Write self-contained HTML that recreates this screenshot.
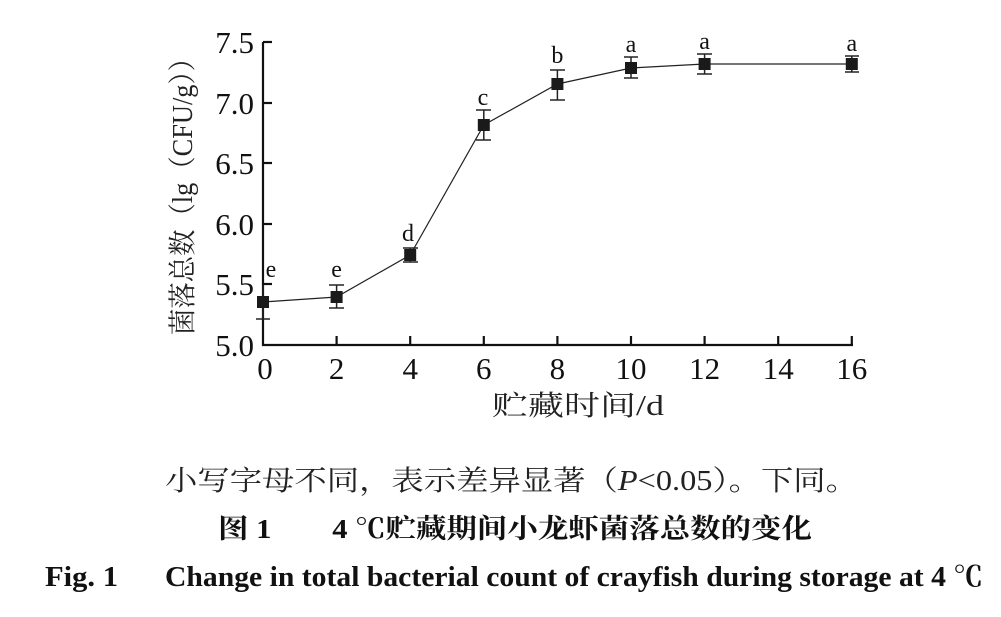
<!DOCTYPE html>
<html><head><meta charset="utf-8"><style>
html,body{margin:0;padding:0;background:#fff;}
svg{display:block;}
</style></head><body>
<svg width="1001" height="617" viewBox="0 0 1001 617" xmlns="http://www.w3.org/2000/svg">
<g stroke="#111" stroke-width="2.2" fill="none">
<line x1="263" y1="42" x2="263" y2="346"/>
<line x1="262" y1="345" x2="853" y2="345"/>
<!-- y ticks -->
<line x1="263" y1="42" x2="272" y2="42"/>
<line x1="263" y1="103" x2="272" y2="103"/>
<line x1="263" y1="163" x2="272" y2="163"/>
<line x1="263" y1="224" x2="272" y2="224"/>
<line x1="263" y1="284" x2="272" y2="284"/>
<!-- x ticks -->
<line x1="336.6" y1="345" x2="336.6" y2="336"/>
<line x1="410.2" y1="345" x2="410.2" y2="336"/>
<line x1="483.8" y1="345" x2="483.8" y2="336"/>
<line x1="557.4" y1="345" x2="557.4" y2="336"/>
<line x1="631" y1="345" x2="631" y2="336"/>
<line x1="704.6" y1="345" x2="704.6" y2="336"/>
<line x1="778.2" y1="345" x2="778.2" y2="336"/>
<line x1="851.8" y1="345" x2="851.8" y2="336"/>
</g>
<g font-family="Liberation Serif, serif" font-size="31" fill="#111" text-anchor="end">
<text x="254" y="53">7.5</text>
<text x="254" y="114">7.0</text>
<text x="254" y="174">6.5</text>
<text x="254" y="235">6.0</text>
<text x="254" y="295">5.5</text>
<text x="254" y="356">5.0</text>
</g>
<g font-family="Liberation Serif, serif" font-size="31" fill="#111" text-anchor="middle">
<text x="265" y="379">0</text>
<text x="336.6" y="379">2</text>
<text x="410.2" y="379">4</text>
<text x="483.8" y="379">6</text>
<text x="557.4" y="379">8</text>
<text x="631" y="379">10</text>
<text x="704.6" y="379">12</text>
<text x="778.2" y="379">14</text>
<text x="851.8" y="379">16</text>
</g>
<!-- line -->
<polyline fill="none" stroke="#222" stroke-width="1.2" points="263,302 336.6,297 410.2,255 483.8,125 557.4,84 631,68 704.6,64 851.8,64"/>
<!-- error bars -->
<g stroke="#222" stroke-width="1.5">
<line x1="263" y1="285" x2="263" y2="319"/><line x1="256" y1="319" x2="270" y2="319"/>
<line x1="336.6" y1="285" x2="336.6" y2="308"/><line x1="329" y1="285" x2="344" y2="285"/><line x1="329" y1="308" x2="344" y2="308"/>
<line x1="410.2" y1="248" x2="410.2" y2="262"/><line x1="403" y1="248" x2="418" y2="248"/><line x1="403" y1="262" x2="418" y2="262"/>
<line x1="483.8" y1="110" x2="483.8" y2="140"/><line x1="476" y1="110" x2="491" y2="110"/><line x1="476" y1="140" x2="491" y2="140"/>
<line x1="557.4" y1="70" x2="557.4" y2="100"/><line x1="550" y1="70" x2="565" y2="70"/><line x1="550" y1="100" x2="565" y2="100"/>
<line x1="631" y1="57" x2="631" y2="78"/><line x1="624" y1="57" x2="638" y2="57"/><line x1="624" y1="78" x2="638" y2="78"/>
<line x1="704.6" y1="54" x2="704.6" y2="74"/><line x1="697" y1="54" x2="712" y2="54"/><line x1="697" y1="74" x2="712" y2="74"/>
<line x1="851.8" y1="56" x2="851.8" y2="72"/><line x1="845" y1="56" x2="859" y2="56"/><line x1="845" y1="72" x2="859" y2="72"/>
</g>
<g fill="#1a1a1a">
<rect x="257" y="296" width="12" height="12"/>
<rect x="330.6" y="291" width="12" height="12"/>
<rect x="404.2" y="249" width="12" height="12"/>
<rect x="477.8" y="119" width="12" height="12"/>
<rect x="551.4" y="78" width="12" height="12"/>
<rect x="625" y="62" width="12" height="12"/>
<rect x="698.6" y="58" width="12" height="12"/>
<rect x="845.8" y="58" width="12" height="12"/>
</g>
<g font-family="Liberation Serif, serif" font-size="24" fill="#111" text-anchor="middle">
<text x="271" y="277">e</text>
<text x="336.6" y="277">e</text>
<text x="408" y="241">d</text>
<text x="483" y="105">c</text>
<text x="557.4" y="63">b</text>
<text x="631" y="52">a</text>
<text x="704.6" y="49">a</text>
<text x="851.8" y="51">a</text>
</g>
<text transform="translate(192,190) rotate(-90)" text-anchor="middle" font-family="Liberation Serif, Noto Serif CJK SC, serif" font-size="28" fill="#222" textLength="290" lengthAdjust="spacingAndGlyphs">菌落总数（lg（CFU/g））</text>
<text x="492" y="415" font-family="Liberation Serif, Noto Serif CJK SC, serif" font-size="28" fill="#222" textLength="172" lengthAdjust="spacingAndGlyphs">贮藏时间/d</text>
<text x="165" y="490" font-family="Liberation Serif, Noto Serif CJK SC, serif" font-size="28" fill="#222" textLength="693" lengthAdjust="spacingAndGlyphs">小写字母不同，表示差异显著（<tspan font-style="italic">P</tspan>&lt;0.05）。下同。</text>
<text x="218" y="538" font-family="Liberation Serif, Noto Serif CJK SC, serif" font-size="27" font-weight="bold" fill="#111" textLength="594" lengthAdjust="spacingAndGlyphs">图 1　　4 ℃贮藏期间小龙虾菌落总数的变化</text>
<text x="45" y="586" font-family="Liberation Serif, serif" font-size="28" font-weight="bold" fill="#111" textLength="73" lengthAdjust="spacingAndGlyphs">Fig. 1</text>
<text x="165" y="586" font-family="Liberation Serif, Noto Serif CJK SC, serif" font-size="28" font-weight="bold" fill="#111" textLength="818" lengthAdjust="spacingAndGlyphs">Change in total bacterial count of crayfish during storage at 4 ℃</text>
</svg>
</body></html>
